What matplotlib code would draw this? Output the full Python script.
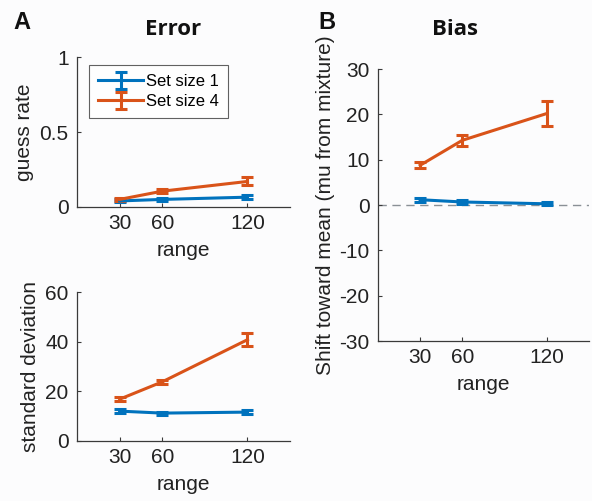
import matplotlib
matplotlib.use("Agg")
import matplotlib.pyplot as plt

plt.rcParams['font.family'] = ['Liberation Sans', 'DejaVu Sans']
plt.rcParams['axes.unicode_minus'] = False

ranges = [30, 60, 120]
labels = ["Set size 1", "Set size 4"]

guess_ss1 = [0.04, 0.05, 0.065]
guess_ss1_err = [0.01, 0.01, 0.012]
guess_ss4 = [0.05, 0.105, 0.17]
guess_ss4_err = [0.01, 0.015, 0.027]

sd_ss1 = [12.0, 11.2, 11.6]
sd_ss1_err = [0.8, 0.6, 0.8]
sd_ss4 = [16.8, 23.8, 40.8]
sd_ss4_err = [0.8, 0.8, 2.5]

bias_ss1 = [1.2, 0.7, 0.3]
bias_ss1_err = [0.4, 0.4, 0.3]
bias_ss4 = [8.8, 14.3, 20.2]
bias_ss4_err = [0.7, 1.2, 2.8]

blue = '#0072BD'
orange = '#D95319'
spine = '#3a3a3a'
bg = '#fcfcfd'
FS = 15

fig = plt.figure(figsize=(5.92, 5.01), dpi=100, facecolor=bg)

def style(ax, yticks, ylim):
    ax.set_facecolor(bg)
    ax.spines['top'].set_visible(False)
    ax.spines['right'].set_visible(False)
    for s in ['left', 'bottom']:
        ax.spines[s].set_color(spine)
        ax.spines[s].set_linewidth(0.9)
    ax.set_xlim(0, 150)
    ax.set_xticks(ranges)
    ax.set_ylim(*ylim)
    ax.set_yticks(yticks)
    ax.tick_params(direction='in', length=3, width=0.8, color=spine,
                   labelsize=FS, labelcolor='#222222')
    ax.tick_params(axis='y', pad=6)
    ax.tick_params(axis='x', pad=5)
    ax.set_xlabel('range', fontsize=FS, color='#222222', labelpad=6)

def draw(ax, y1, e1, y4, e4):
    h1 = ax.errorbar(ranges, y1, yerr=e1, color=blue, lw=2.2, capsize=4,
                     capthick=2.2, elinewidth=2.2, label=labels[0])
    h4 = ax.errorbar(ranges, y4, yerr=e4, color=orange, lw=2.2, capsize=4,
                     capthick=2.2, elinewidth=2.2, label=labels[1])
    return h1, h4

ax1 = fig.add_axes([0.130, 0.587, 0.360, 0.299])
style(ax1, [0, 0.5, 1], (0, 1))
ax1.set_yticklabels(['0', '0.5', '1'])
draw(ax1, guess_ss1, guess_ss1_err, guess_ss4, guess_ss4_err)
ax1.set_ylabel('guess rate', fontsize=FS, color='#222222', labelpad=4)
leg = ax1.legend(loc='upper left', bbox_to_anchor=(0.056, 0.947), borderaxespad=0,
                 fontsize=12, frameon=True, fancybox=False, handlelength=2.7,
                 borderpad=0.55, labelspacing=0.3, handletextpad=0.15)
leg.get_frame().set_edgecolor(spine)
leg.get_frame().set_linewidth(0.8)
leg.get_frame().set_facecolor('white')

ax2 = fig.add_axes([0.130, 0.120, 0.360, 0.297])
style(ax2, [0, 20, 40, 60], (0, 60))
draw(ax2, sd_ss1, sd_ss1_err, sd_ss4, sd_ss4_err)
ax2.set_ylabel('standard deviation', fontsize=FS, color='#222222', labelpad=4)

ax3 = fig.add_axes([0.6385, 0.319, 0.356, 0.543])
style(ax3, [-30, -20, -10, 0, 10, 20, 30], (-30, 30))
ax3.axhline(0, color='#8a9096', lw=1.0, ls=(0, (6, 4)), zorder=1)
draw(ax3, bias_ss1, bias_ss1_err, bias_ss4, bias_ss4_err)
ax3.set_ylabel('Shift toward mean (mu from mixture)', fontsize=FS, color='#222222', labelpad=3)

fig.text(0.292, 0.942, 'Error', fontsize=16, fontweight='bold', family='Open Sans',
         ha='center', va='center', color='#111111')
fig.text(0.768, 0.942, 'Bias', fontsize=16, fontweight='bold', family='Open Sans',
         ha='center', va='center', color='#111111')
fig.text(0.037, 0.955, 'A', fontsize=17, fontweight='bold', ha='center', va='center', color='#111111')
fig.text(0.552, 0.955, 'B', fontsize=17, fontweight='bold', ha='center', va='center', color='#111111')

fig.savefig('out.png', dpi=100, facecolor=bg)
